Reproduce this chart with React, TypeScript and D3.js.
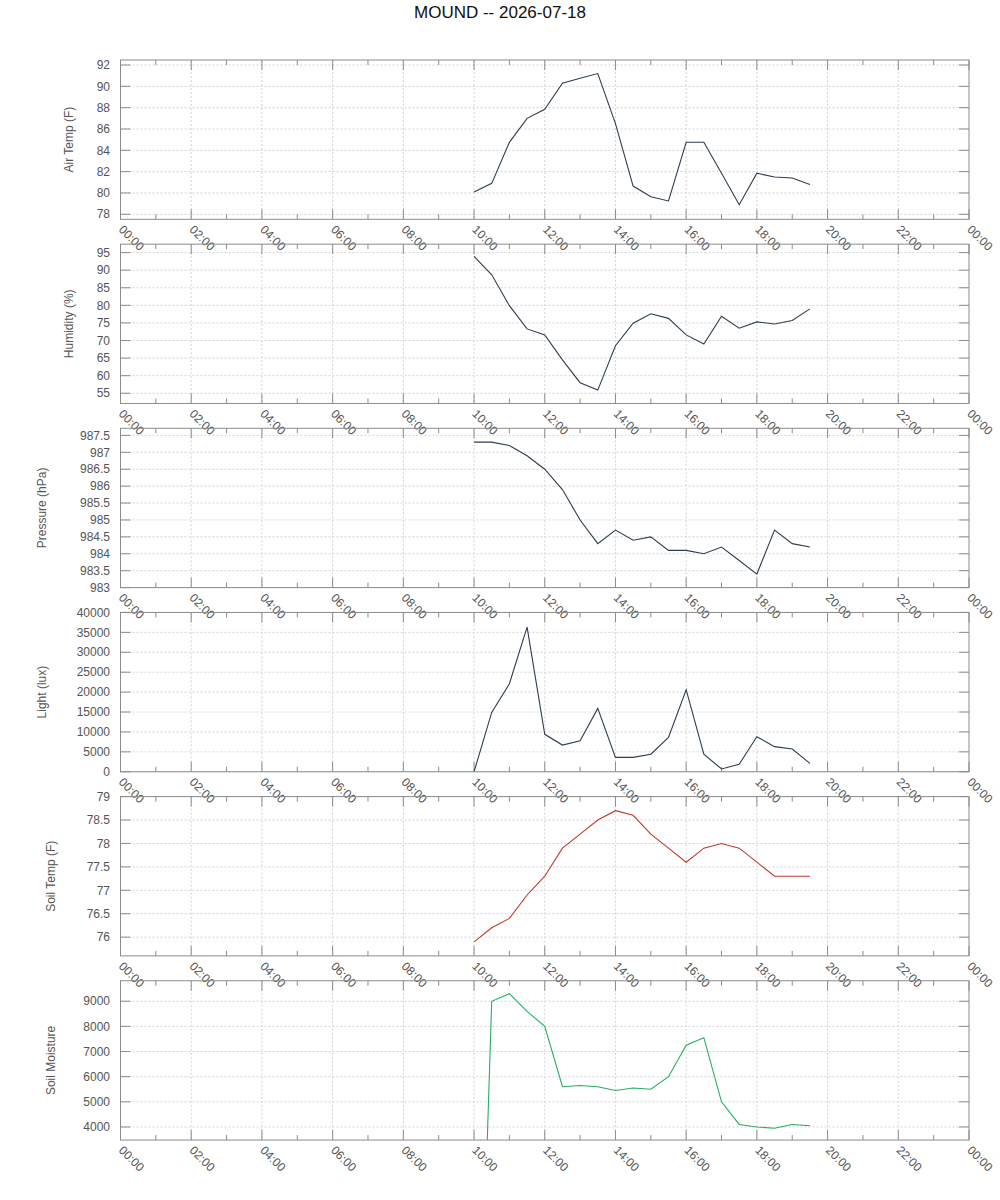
import React from "react";
import * as d3 from "d3";

const title = "MOUND -- 2026-07-18";
const times = [10, 10.5, 11, 11.5, 12, 12.5, 13, 13.5, 14, 14.5, 15, 15.5, 16, 16.5, 17, 17.5, 18, 18.5, 19, 19.5];
const airTemp = [80.1, 80.9, 84.75, 87.0, 87.85, 90.3, 90.75, 91.2, 86.5, 80.65, 79.65, 79.25, 84.75, 84.75, 81.85, 78.9, 81.85, 81.5, 81.4, 80.8];
const humidity = [93.9, 88.7, 79.9, 73.3, 71.6, 64.5, 58.0, 55.9, 68.5, 74.9, 77.6, 76.3, 71.6, 69.0, 76.9, 73.5, 75.3, 74.7, 75.7, 79.0];
const pressure = [987.3, 987.3, 987.2, 986.9, 986.5, 985.9, 985.0, 984.3, 984.7, 984.4, 984.5, 984.1, 984.1, 984.0, 984.2, 983.8, 983.4, 984.7, 984.3, 984.2];
const light = [0, 14900, 22100, 36300, 9400, 6700, 7800, 15900, 3600, 3600, 4400, 8600, 20600, 4400, 700, 1900, 8800, 6300, 5700, 2100];
const soilTemp = [75.9, 76.2, 76.4, 76.9, 77.3, 77.9, 78.2, 78.5, 78.7, 78.6, 78.2, 77.9, 77.6, 77.9, 78.0, 77.9, 77.6, 77.3, 77.3, 77.3];
const soilMoisture = [-13000, 9000, 9300, 8600, 8000, 5600, 5650, 5600, 5450, 5550, 5500, 6000, 7250, 7550, 5000, 4100, 4000, 3950, 4100, 4050];

const xTickHours = [0, 2, 4, 6, 8, 10, 12, 14, 16, 18, 20, 22, 24];
const xMinorHours = [1, 3, 5, 7, 9, 11, 13, 15, 17, 19, 21, 23];

const airTempTicks = [78, 80, 82, 84, 86, 88, 90, 92];
const humidityTicks = [55, 60, 65, 70, 75, 80, 85, 90, 95];
const pressureTicks = [983, 983.5, 984, 984.5, 985, 985.5, 986, 986.5, 987, 987.5];
const lightTicks = [0, 5000, 10000, 15000, 20000, 25000, 30000, 35000, 40000];
const soilTempTicks = [76, 76.5, 77, 77.5, 78, 78.5, 79];
const soilMoistureTicks = [4000, 5000, 6000, 7000, 8000, 9000];

const panels = [
  { label: "Air Temp (F)", values: airTemp, domain: [77.53, 92.47], ticks: airTempTicks, color: "#2c3e50" },
  { label: "Humidity (%)", values: humidity, domain: [52.1, 97.4], ticks: humidityTicks, color: "#2c3e50" },
  { label: "Pressure (hPa)", values: pressure, domain: [983.0, 987.71], ticks: pressureTicks, color: "#2c3e50" },
  { label: "Light (lux)", values: light, domain: [0, 40000], ticks: lightTicks, color: "#2c3e50" },
  { label: "Soil Temp (F)", values: soilTemp, domain: [75.6, 79.0], ticks: soilTempTicks, color: "#c0392b" },
  { label: "Soil Moisture", values: soilMoisture, domain: [3480, 9815], ticks: soilMoistureTicks, color: "#27ae60" },
];

const LEFT = 120.5;
const RIGHT = 969;
const TOP0 = 60;
const STEP = 184.15;
const PH = 159.3;
const FONT = "'Liberation Sans', Arial, sans-serif";
const BORDER = "#8c8c8c";
const GRID = "#d4d4d4";
const TEXT = "#555555";

const fmtTick = (v: number) => {
  const s = String(Math.round(v * 100) / 100);
  return s;
};
const fmtHour = (h: number) => `${String(h % 24).padStart(2, "0")}:00`;

function Panel({ idx, p }: { idx: number; p: typeof panels[number] }) {
  const top = TOP0 + idx * STEP;
  const bottom = top + PH;
  const x = d3.scaleLinear().domain([0, 24]).range([LEFT, RIGHT]);
  const y = d3.scaleLinear().domain(p.domain).range([bottom, top]);
  const line = d3
    .line<number>()
    .x((_, i) => x(times[i]))
    .y((v) => y(v));
  const maxChars = d3.max(p.ticks, (t) => fmtTick(t).length) || 2;
  const labelX = 87 - 9 * maxChars;
  const clipId = `clip-${idx}`;
  return (
    <g>
      <defs>
        <clipPath id={clipId}>
          <rect x={LEFT} y={top} width={RIGHT - LEFT} height={PH} />
        </clipPath>
      </defs>
      {/* grid */}
      {xTickHours.slice(1, -1).map((h) => (
        <line key={`gx${h}`} x1={x(h)} x2={x(h)} y1={top} y2={bottom} stroke={GRID} strokeWidth={1} strokeDasharray="2,2" />
      ))}
      {p.ticks.map((t) => (
        <line key={`gy${t}`} x1={LEFT} x2={RIGHT} y1={y(t)} y2={y(t)} stroke={GRID} strokeWidth={1} strokeDasharray="2,2" />
      ))}
      {/* ticks */}
      {xTickHours.map((h) => (
        <g key={`tx${h}`}>
          <line x1={x(h)} x2={x(h)} y1={bottom} y2={bottom - 10} stroke={BORDER} />
          <line x1={x(h)} x2={x(h)} y1={top} y2={top + 10} stroke={BORDER} />
          <text
            x={0}
            y={0}
            transform={`translate(${x(h) - 2.5},${bottom + 11}) rotate(45)`}
            fontSize={12}
            fontFamily={FONT}
            fill={TEXT}
          >
            {fmtHour(h)}
          </text>
        </g>
      ))}
      {xMinorHours.map((h) => (
        <g key={`mx${h}`}>
          <line x1={x(h)} x2={x(h)} y1={bottom} y2={bottom - 5} stroke={BORDER} />
          <line x1={x(h)} x2={x(h)} y1={top} y2={top + 5} stroke={BORDER} />
        </g>
      ))}
      {p.ticks.map((t) => (
        <g key={`ty${t}`}>
          <line x1={LEFT} x2={LEFT + 10} y1={y(t)} y2={y(t)} stroke={BORDER} />
          <line x1={RIGHT} x2={RIGHT - 10} y1={y(t)} y2={y(t)} stroke={BORDER} />
          <text x={110} y={y(t)} dy="0.35em" textAnchor="end" fontSize={12} fontFamily={FONT} fill={TEXT}>
            {fmtTick(t)}
          </text>
        </g>
      ))}
      {/* data */}
      <path d={line(p.values) || ""} fill="none" stroke={p.color} strokeWidth={1.1} clipPath={`url(#${clipId})`} />
      {/* border */}
      <rect x={LEFT} y={top} width={RIGHT - LEFT} height={PH} fill="none" stroke={BORDER} strokeWidth={1} />
      <text
        transform={`translate(${labelX},${(top + bottom) / 2}) rotate(-90)`}
        textAnchor="middle"
        dy="0.35em"
        fontSize={12}
        fontFamily={FONT}
        fill={TEXT}
      >
        {p.label}
      </text>
    </g>
  );
}

export default function App() {
  return (
    <svg
      width={1000}
      height={1200}
      style={{ position: "absolute", left: 0, top: 0, background: "#fff" }}
    >
      <rect x={0} y={0} width={1000} height={1200} fill="#fff" />
      <text x={500} y={18.3} textAnchor="middle" fontSize={17} fontFamily={FONT} fill="#111">
        {title}
      </text>
      {panels.map((p, i) => (
        <Panel key={p.label} idx={i} p={p} />
      ))}
    </svg>
  );
}
